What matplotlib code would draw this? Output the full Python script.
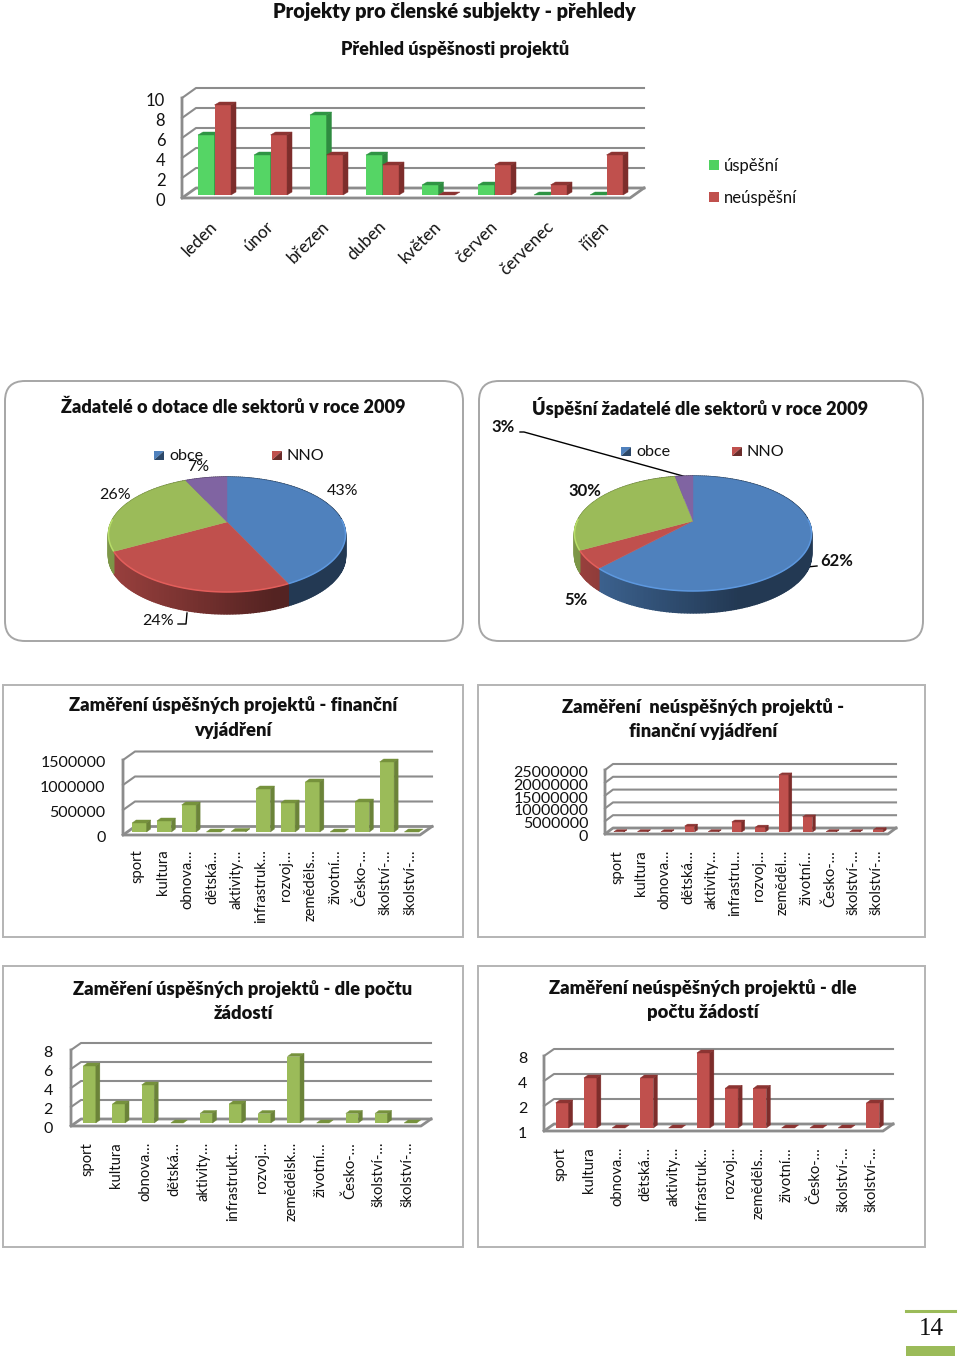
import numpy as np
import matplotlib
matplotlib.use('Agg')
import matplotlib.pyplot as plt
from matplotlib.patches import FancyBboxPatch, Rectangle
from matplotlib.transforms import IdentityTransform, Affine2D

plt.rcParams['font.family'] = ['Lato', 'DejaVu Sans']

W = 960
H = 1361

# data
mesice = ['leden', 'únor', 'březen', 'duben', 'květen', 'červen', 'červenec', 'říjen']
uspesni = [6, 4, 8, 4, 1, 1, 0, 0]
neuspesni = [9, 6, 4, 3, 0, 3, 1, 4]

sektory1 = [43, 24, 26, 7]
sektory2 = [62, 5, 30, 3]

kat_c = ['sport', 'kultura', 'obnova…', 'dětská…', 'aktivity…', 'infrastruk…', 'rozvoj…',
         'zeměděls…', 'životní…', 'Česko-…', 'školství-…', 'školství-…']
fin_uspesne = [180000, 220000, 540000, 0, 10000, 860000, 580000, 1000000, 0, 600000, 1400000, 0]

kat_d = ['sport', 'kultura', 'obnova…', 'dětská…', 'aktivity…', 'infrastru…', 'rozvoj…',
         'zeměděl…', 'životní…', 'Česko-…', 'školství-…', 'školství-…']
fin_neuspesne = [100000, 100000, 100000, 2300000, 100000, 3900000, 1900000, 22300000, 5900000,
                 100000, 100000, 900000]

kat_e = ['sport', 'kultura', 'obnova…', 'dětská…', 'aktivity…', 'infrastrukt…', 'rozvoj…',
         'zemědělsk…', 'životní…', 'Česko-…', 'školství-…', 'školství-…']
pocet_uspesne = [6, 2, 4, 0, 1, 2, 1, 7, 0, 1, 1, 0]

kat_f = ['sport', 'kultura', 'obnova…', 'dětská…', 'aktivity…', 'infrastruk…', 'rozvoj…',
         'zeměděls…', 'životní…', 'Česko-…', 'školství-…', 'školství-…']
pocet_neuspesne = [2, 4, 1, 4, 1, 8, 3, 3, 1, 1, 1, 2]

GREEN = ('#55d565', '#2e8b40', '#2f9444')
RED = ('#c0504d', '#7d2d2b', '#8c3432')
OLIVE = ('#9bbb59', '#6b8339', '#76923c')
PIE_COLORS = ['#4f81bd', '#c0504d', '#9bbb59', '#8064a2']
GRID = '#8c8c8c'

fig = plt.figure(figsize=(W / 100, H / 100), dpi=100, facecolor='white')

# podklad v pixelech: ramecky a texty
bg = fig.add_axes([0, 0, 1, 1])
bg.set_xlim(0, W)
bg.set_ylim(H, 0)
bg.axis('off')


def make_axes(x0, y_top, x1, y_bot):
    ax = fig.add_axes([x0 / W, 1 - y_bot / H, (x1 - x0) / W, (y_bot - y_top) / H])
    ax.patch.set_alpha(0)
    for s in ax.spines.values():
        s.set_visible(False)
    return ax


def poly(ax, pts, color, z=3):
    ax.fill([p[0] for p in pts], [p[1] for p in pts], color=color, lw=0.3,
            transform=IdentityTransform(), clip_on=False, zorder=z)


def walls(ax, ticks, floor, depth):
    # zadni stena, bocni stena a podlaha "3D" grafu
    dx, dy = depth
    xa, xb = ax.get_xlim()
    to_px = ax.transData.transform
    for t in ticks:
        a = to_px((xa, t))
        b = to_px((xb, t))
        lw = 2.0 if t == floor else 1.5
        xs = [a[0], a[0] + dx, b[0] + dx]
        ys = [a[1], a[1] + dy, a[1] + dy]
        ax.plot(xs, ys, color=GRID, lw=lw, transform=IdentityTransform(), clip_on=False, zorder=1)
    a = to_px((xa, floor))
    b = to_px((xb, floor))
    top = to_px((xa, ticks[-1]))
    ax.plot([top[0], a[0], b[0], b[0] + dx], [top[1], a[1], a[1], a[1] + dy], color=GRID, lw=2.0,
            transform=IdentityTransform(), clip_on=False, zorder=1)


def box(ax, x, w, v, floor, cols, off, d):
    # predni stena pres ax.bar, horni a bocni stena jako polygony
    to_px = ax.transData.transform
    ox, oy = off
    dx, dy = d
    p0 = to_px((x - w / 2, floor))
    p1 = to_px((x + w / 2, v))
    x0, y0, x1, y1 = p0[0] + ox, p0[1] + oy, p1[0] + ox, p1[1] + oy
    ax.bar(x, v - floor, w, bottom=floor, color=cols[0], zorder=3, clip_on=False,
           transform=ax.transData + Affine2D().translate(ox, oy))
    poly(ax, [(x0, y1), (x1, y1), (x1 + dx, y1 + dy), (x0 + dx, y1 + dy)], cols[2])
    if v > floor:
        poly(ax, [(x1, y1), (x1 + dx, y1 + dy), (x1 + dx, y0 + dy), (x1, y0)], cols[1])


def nudge_y_labels(ax, px):
    for lbl in ax.get_yticklabels():
        lbl.set_transform(lbl.get_transform() + Affine2D().translate(0, px))


def bar_chart(rect, labels, series, cols, ticks, ticklabels, width, off, d, depth, fs_y, fs_x,
              pad_y, pad_x, lab_shift, log=False):
    ax = make_axes(*rect)
    n = len(labels)
    ax.set_xlim(0, n)
    if log:
        ax.set_yscale('log', base=2)
    ax.set_ylim(ticks[0], ticks[-1])
    walls(ax, ticks, ticks[0], depth)
    pos = np.arange(n) + 0.5
    for i in range(n):
        box(ax, pos[i], width, series[i], ticks[0], cols, off, d)
    ax.set_yticks(ticks)
    ax.set_yticklabels(ticklabels)
    ax.minorticks_off()
    ax.tick_params(axis='y', length=0, pad=pad_y, labelsize=fs_y, labelcolor='#111111')
    ax.set_xticks(pos + lab_shift)
    ax.set_xticklabels(labels, rotation=90, ha='center', va='top')
    ax.tick_params(axis='x', length=0, pad=pad_x, labelsize=fs_x, labelcolor='#111111')
    nudge_y_labels(ax, -1.5)
    return ax


def shade(c, f):
    rgb = np.array(matplotlib.colors.to_rgb(c))
    return tuple(np.clip(rgb * f, 0, 1))


def pie_3d(cx, apex_y, values, a=115.7, s=54.8, p=0.217, thick=22):
    ax = make_axes(cx - 1.2 * a, apex_y - 70, cx + 1.2 * a, apex_y + 110)
    ax.axis('off')
    ax.set_xlim(-1.2, 1.2)
    ax.set_ylim(-110 / s, 70 / s)

    def project(th):
        w = 1 + p * np.cos(th)
        return np.sin(th) / w, np.cos(th) / w

    edges = np.radians(np.concatenate([[0], np.cumsum(values)]) * 3.6)
    d = thick / s
    # plast kolace
    for i in range(len(values)):
        ths = np.arange(edges[i], edges[i + 1] + 0.02, 0.02)
        ths[-1] = edges[i + 1]
        for t0, t1 in zip(ths[:-1], ths[1:]):
            x0, y0 = project(t0)
            x1, y1 = project(t1)
            f = 0.80 - 0.36 * min(1, (x0 + 1) / 1.4)
            ax.fill([x0, x1, x1, x0], [y0, y1, y1 - d, y0 - d], color=shade(PIE_COLORS[i], f),
                    lw=1.0, zorder=2)
    # horni plocha
    for i in range(len(values)):
        ths = np.linspace(edges[i], edges[i + 1], 120)
        xs, ys = project(ths)
        ax.fill(np.r_[0, xs], np.r_[0, ys], color=PIE_COLORS[i], lw=0.3, zorder=3)
        vis = np.cos(ths) < 0.05
        if vis.any():
            ax.plot(xs[vis], ys[vis], color=shade(PIE_COLORS[i], 1.18),
                    lw=1.1, zorder=4, solid_capstyle='butt')
    return ax


def panel(x0, y0, x1, y1, rounded=False):
    if rounded:
        bg.add_patch(FancyBboxPatch((x0 + 20, y0 + 20), x1 - x0 - 40, y1 - y0 - 40,
                                    boxstyle='round,pad=20,rounding_size=20', fc='white',
                                    ec='#a6a6a6', lw=1.4))
    else:
        bg.add_patch(Rectangle((x0, y0), x1 - x0, y1 - y0, fc='white', ec='#b4b4b4', lw=1.4))


def title(x, y, txt, fs=13.2):
    bg.text(x, y, txt, ha='center', va='center', fontsize=fs, fontweight='heavy', color='#111111')


def legend_tri(x, y, c, label, fs=11.6):
    # ctverecek legendy s prechodem
    bg.fill([x, x + 10, x], [y, y, y + 9], color=c, lw=0)
    bg.fill([x + 10, x + 10, x], [y, y + 9, y + 9], color=shade(c, 0.55), lw=0)
    bg.text(x + 15, y + 4.5, label, ha='left', va='center', fontsize=fs, color='#111111')


panel(5, 381, 463, 641, True)
panel(479, 381, 923, 641, True)
panel(3, 685, 463, 937)
panel(478, 685, 925, 937)
panel(3, 966, 463, 1247)
panel(478, 966, 925, 1247)

title(454, 11, 'Projekty pro členské subjekty - přehledy', 14.4)
title(455, 49, 'Přehled úspěšnosti projektů', 13)
title(233, 407, 'Žadatelé o dotace dle sektorů v roce 2009', 13.1)
title(700, 407, 'Úspěšní žadatelé dle sektorů v roce 2009', 13.1)
title(233, 705, 'Zaměření úspěšných projektů - finanční')
title(233, 730, 'vyjádření')
title(703, 707, 'Zaměření  neúspěšných projektů -')
title(703, 731, 'finanční vyjádření')
title(243, 989, 'Zaměření úspěšných projektů - dle počtu')
title(243, 1013, 'žádostí')
title(703, 988, 'Zaměření neúspěšných projektů - dle')
title(703, 1012, 'počtu žádostí')

# mesicni graf
ax1 = make_axes(182, 98, 630, 198)
ax1.set_xlim(0, len(mesice))
ax1.set_ylim(0, 10)
walls(ax1, [0, 2, 4, 6, 8, 10], 0, (14, 10))
bw = 0.295
for i in range(len(mesice)):
    box(ax1, i + 0.5 - bw / 2, bw, uspesni[i], 0, GREEN, (4.5, 3), (5, 3))
    box(ax1, i + 0.5 + bw / 2, bw, neuspesni[i], 0, RED, (4.5, 3), (5, 3))
ax1.set_yticks([0, 2, 4, 6, 8, 10])
ax1.tick_params(axis='y', length=0, pad=12, labelsize=12, labelcolor='#111111')
nudge_y_labels(ax1, -1)
ax1.set_xticks(np.arange(len(mesice)) + 0.49)
ax1.set_xticklabels(mesice, rotation=45, ha='right', va='top', rotation_mode='anchor')
ax1.tick_params(axis='x', length=0, pad=14.5, labelsize=12.3, labelcolor='#111111')

bg.add_patch(Rectangle((709, 160), 10, 10, fc='#4fd160', ec='none'))
bg.text(724, 165.5, 'úspěšní', ha='left', va='center', fontsize=12, color='#111111')
bg.add_patch(Rectangle((709, 192), 10, 10, fc=RED[0], ec='none'))
bg.text(724, 197.5, 'neúspěšní', ha='left', va='center', fontsize=12, color='#111111')

# kolace
pie_3d(227, 522, sektory1)
pie_3d(693, 521, sektory2)

legend_tri(154, 451, PIE_COLORS[0], 'obce')
legend_tri(272, 451, PIE_COLORS[1], 'NNO')
legend_tri(621, 447, PIE_COLORS[0], 'obce')
legend_tri(732, 447, PIE_COLORS[1], 'NNO')

for x, y, txt in [(343, 491, '43%'), (158, 621, '24%'), (115, 495, '26%'), (198, 467, '7%')]:
    bg.text(x, y, txt, ha='center', va='center', fontsize=11.5, color='#111111', zorder=10)
bg.plot([178, 186, 187], [624, 624, 613], color='black', lw=1, zorder=10)

for x, y, txt in [(503, 427, '3%'), (585, 491, '30%'), (576, 600, '5%'), (837, 561, '62%')]:
    bg.text(x, y, txt, ha='center', va='center', fontsize=12, fontweight='bold', color='#111111', zorder=10)
bg.plot([520, 524, 683], [432, 432, 476], color='black', lw=1, zorder=10)
bg.plot([807, 817], [567, 566], color='black', lw=1, zorder=10)

# sloupcove grafy
bar_chart((123, 760, 420, 835), kat_c, fin_uspesne, OLIVE,
          [0, 500000, 1000000, 1500000], ['0', '500000', '1000000', '1500000'],
          0.585, (4, 3), (4, 3), (12, 8.5), 11.5, 10.6, 12.5, 10.5, 0.1)
bar_chart((605, 770, 888, 834), kat_d, fin_neuspesne, RED,
          [0, 5000000, 10000000, 15000000, 20000000, 25000000],
          ['0', '5000000', '10000000', '15000000', '20000000', '25000000'],
          0.42, (2, 2), (3, 2), (8, 6), 11.5, 10.6, 12, 11.5, 0.03)
bar_chart((71, 1050, 421, 1126), kat_e, pocet_uspesne, OLIVE,
          [0, 2, 4, 6, 8], ['0', '2', '4', '6', '8'],
          0.43, (4, 3), (4, 3), (10, 7), 11.5, 10.6, 13, 11.5, 0.05)
bar_chart((544, 1056, 883, 1131), kat_f, pocet_neuspesne, RED,
          [1, 2, 4, 8], ['1', '2', '4', '8'],
          0.46, (4, 3), (4, 3), (10, 7), 11.5, 10.6, 12, 11.5, 0.1, log=True)

# cislo stranky
bg.plot([906, 955], [1311, 1311], color='#9bbb59', lw=2.2)
bg.add_patch(Rectangle((906, 1346), 49, 10, fc='#9bbb59', ec='none'))
bg.text(931, 1329, '14', ha='center', va='center', fontsize=18, family='Liberation Serif', color='#111111')

fig.savefig('out.png', dpi=100, facecolor='white')
